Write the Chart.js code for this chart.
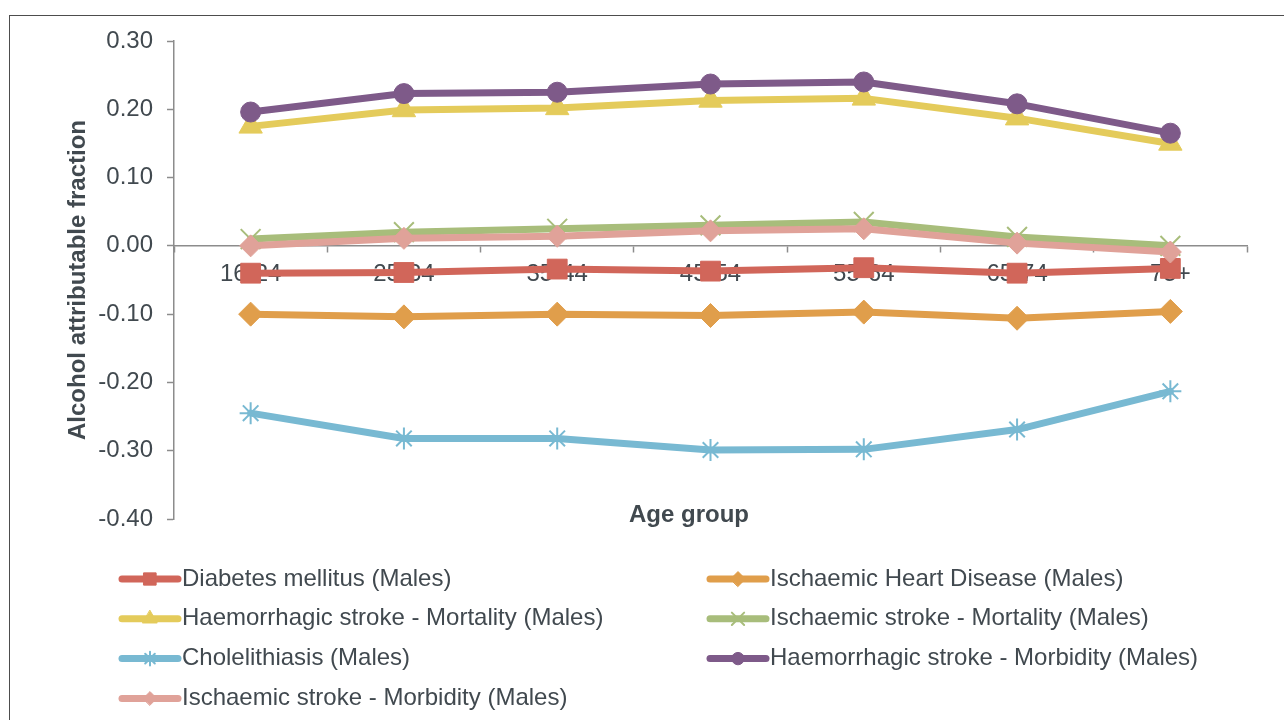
<!DOCTYPE html>
<html>
<head>
<meta charset="utf-8">
<title>Alcohol attributable fraction by age group (Males)</title>
<script src="https://cdn.jsdelivr.net/npm/chart.js@4.4.1/dist/chart.umd.min.js"></script>
<style>
  html, body { margin: 0; padding: 0; background: #ffffff; }
  #wrap { position: relative; width: 1284px; height: 720px; overflow: hidden; }
  #frame { position: absolute; left: 9px; top: 15px; right: -10px; bottom: -10px;
           border-top: 1.5px solid #4d4d4d; border-left: 1.5px solid #4d4d4d; }
  canvas { position: absolute; left: 0; top: 0; }
</style>
</head>
<body>
<div id="wrap">
  <div id="frame"></div>
  <canvas id="chart" width="1284" height="720"></canvas>
</div>
<script>
// Age bands on the x axis
const ageGroups = ['16-24', '25-34', '35-44', '45-54', '55-64', '65-74', '75+'];

// Alcohol attributable fraction per condition (males)
const diabetesMales        = [-0.040, -0.039, -0.034, -0.037, -0.032, -0.040, -0.033];
const ihdMales             = [-0.100, -0.104, -0.100, -0.102, -0.097, -0.106, -0.096];
const haemStrokeMortMales  = [ 0.175,  0.199,  0.202,  0.213,  0.216,  0.187,  0.150];
const ischStrokeMortMales  = [ 0.010,  0.020,  0.025,  0.030,  0.035,  0.013,  0.000];
const cholelithiasisMales  = [-0.245, -0.282, -0.282, -0.299, -0.298, -0.269, -0.213];
const haemStrokeMorbMales  = [ 0.196,  0.223,  0.225,  0.237,  0.240,  0.208,  0.165];
const ischStrokeMorbMales  = [ 0.000,  0.011,  0.014,  0.022,  0.025,  0.004, -0.009];

// Series names, in legend order
const seriesNames = [
  'Diabetes mellitus (Males)',
  'Ischaemic Heart Disease (Males)',
  'Haemorrhagic stroke - Mortality (Males)',
  'Ischaemic stroke - Mortality (Males)',
  'Cholelithiasis (Males)',
  'Haemorrhagic stroke - Morbidity (Males)',
  'Ischaemic stroke - Morbidity (Males)'
];

// Value axis tick labels
const yTickValues = [0.30, 0.20, 0.10, 0.00, -0.10, -0.20, -0.30, -0.40];

const xTitle = 'Age group';
const yTitle = 'Alcohol attributable fraction';

const seriesData = [diabetesMales, ihdMales, haemStrokeMortMales, ischStrokeMortMales,
                    cholelithiasisMales, haemStrokeMorbMales, ischStrokeMorbMales];
const seriesColors = ['#d1665a', '#e09e4b', '#e4cb5b', '#a8bd7b', '#78b9d2', '#7e5a89', '#e0a299'];
const markerStyles = ['rect', 'rectRot', 'triangle', 'crossRot', 'star', 'circle', 'rectRot'];
const markerRadius = [14, 12, 13.5, 14, 11, 10, 11];
const markerBorder = [1, 1, 1, 2, 2, 1, 1];

const textColor = '#41494f';
const axisColor = '#8c8c8c';
const fontFamily = '"Liberation Sans", Arial, Helvetica, sans-serif';
const fontSize = 24;

const datasets = seriesNames.map((name, i) => ({
  label: name,
  data: seriesData[i],
  borderColor: seriesColors[i],
  backgroundColor: seriesColors[i],
  pointBackgroundColor: seriesColors[i],
  pointBorderColor: seriesColors[i],
  pointStyle: markerStyles[i],
  pointRadius: markerRadius[i],
  pointHoverRadius: markerRadius[i],
  pointBorderWidth: markerBorder[i],
  borderWidth: 7,
  borderCapStyle: 'round',
  borderJoinStyle: 'round',
  tension: 0,
  fill: false,
  clip: false,
  // later series are painted above earlier ones
  order: seriesNames.length - 1 - i
}));

// Axis title under the plot and a two-column legend
const overlayPlugin = {
  id: 'overlay',
  afterDraw(chart) {
    const ctx = chart.ctx;
    ctx.save();
    ctx.fillStyle = textColor;
    ctx.font = 'bold ' + fontSize + 'px ' + fontFamily;
    ctx.textAlign = 'center';
    ctx.textBaseline = 'middle';
    ctx.fillText(xTitle, 689, 515);

    ctx.font = fontSize + 'px ' + fontFamily;
    ctx.textAlign = 'left';
    chart.data.datasets.forEach((ds, i) => {
      const col = i % 2;
      const row = Math.floor(i / 2);
      const x0 = col === 0 ? 122 : 710;
      const y = 579 + row * 39.8;
      ctx.strokeStyle = ds.borderColor;
      ctx.lineWidth = 7;
      ctx.lineCap = 'round';
      ctx.beginPath();
      ctx.moveTo(x0, y);
      ctx.lineTo(x0 + 56, y);
      ctx.stroke();
      ctx.fillStyle = ds.pointBackgroundColor;
      ctx.strokeStyle = ds.pointBorderColor;
      ctx.lineWidth = ds.pointBorderWidth;
      Chart.helpers.drawPoint(ctx, {
        pointStyle: ds.pointStyle,
        radius: ds.pointRadius * 0.62,
        rotation: 0,
        borderWidth: ds.pointBorderWidth
      }, x0 + 28, y);
      ctx.fillStyle = textColor;
      ctx.fillText(ds.label, x0 + 60, y);
    });
    ctx.restore();
  }
};

new Chart(document.getElementById('chart'), {
  type: 'line',
  data: { labels: ageGroups, datasets },
  plugins: [overlayPlugin],
  options: {
    responsive: false,
    animation: false,
    events: [],
    layout: { padding: { left: 60, right: 37, top: 41, bottom: 201 } },
    plugins: {
      legend: { display: false },
      tooltip: { enabled: false },
      title: { display: false }
    },
    scales: {
      x: {
        type: 'category',
        position: { y: 0 },
        offset: true,
        afterFit(scale) { scale.height = 0; },
        grid: {
          offset: true,
          drawOnChartArea: false,
          drawTicks: true,
          tickLength: 6,
          tickWidth: 1.5,
          tickColor: axisColor
        },
        border: { display: true, color: axisColor, width: 1.5 },
        ticks: {
          color: textColor,
          padding: 8,
          maxRotation: 0,
          autoSkip: false,
          font: { family: fontFamily, size: fontSize }
        }
      },
      y: {
        min: -0.4,
        max: 0.3,
        afterFit(scale) { scale.width = 114; },
        afterBuildTicks(scale) { scale.ticks = yTickValues.map(v => ({ value: v })); },
        grid: {
          drawOnChartArea: false,
          drawTicks: true,
          tickLength: 7,
          tickWidth: 1.5,
          tickColor: axisColor
        },
        border: { display: true, color: axisColor, width: 1.5 },
        ticks: {
          color: textColor,
          padding: 14,
          font: { family: fontFamily, size: fontSize },
          callback: v => Number(v).toFixed(2)
        },
        title: {
          display: true,
          text: yTitle,
          color: textColor,
          font: { family: fontFamily, size: fontSize, weight: 'bold' }
        }
      }
    }
  }
});
</script>
</body>
</html>
